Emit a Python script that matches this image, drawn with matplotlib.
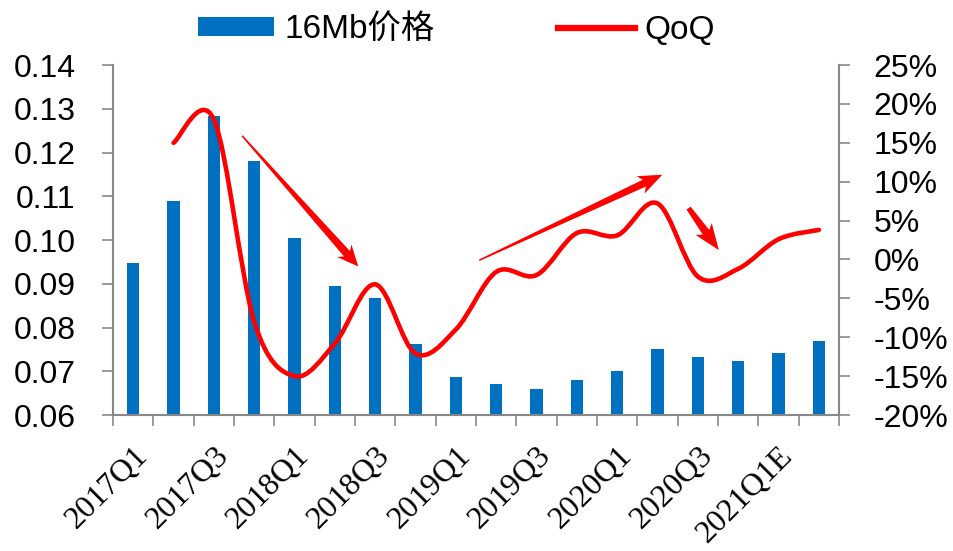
import numpy as np
import matplotlib
matplotlib.use('Agg')
import matplotlib.pyplot as plt
import matplotlib.transforms as mtransforms
from matplotlib.path import Path
from matplotlib.patches import PathPatch, Patch, Polygon
from matplotlib.lines import Line2D
from matplotlib.ticker import FuncFormatter, MultipleLocator, FixedLocator

plt.rcParams['font.family'] = ['Liberation Sans', 'Noto Sans CJK SC', 'DejaVu Sans']

# quarterly 16Mb price and its QoQ change (%)
quarters = ['2017Q1', '2017Q2', '2017Q3', '2017Q4', '2018Q1', '2018Q2', '2018Q3', '2018Q4',
            '2019Q1', '2019Q2', '2019Q3', '2019Q4', '2020Q1', '2020Q2', '2020Q3', '2020Q4',
            '2021Q1E', '2021Q2E']
price = [0.0947, 0.1089, 0.1284, 0.1181, 0.1004, 0.0896, 0.0867, 0.0762,
         0.0688, 0.0671, 0.0659, 0.0680, 0.0701, 0.0750, 0.0733, 0.0723,
         0.0741, 0.0769]
qoq = [None, 15.0, 18.0, -8.0, -15.0, -10.8, -3.2, -12.1,
       -9.0, -1.6, -2.0, 3.4, 3.1, 7.2, -2.2, -1.2,
       2.6, 3.8]

# trend arrows: (tail, tip) in (quarter index, QoQ %)
arrow_tails = [(2.7, 15.9), (8.58, -0.1), (13.77, 6.6)]
arrow_tips = [(5.58, -0.9), (13.12, 10.9), (14.52, 1.2)]

BLUE = '#0070C0'
RED = '#FF0000'
GRAY = '#888888'


def smooth_path(xs, ys):
    # Catmull-Rom style bezier, like a spreadsheet "smoothed line"
    pts = np.column_stack([xs, ys])
    n = len(pts)
    verts = [pts[0]]
    codes = [Path.MOVETO]
    for i in range(n - 1):
        p0 = pts[i - 1] if i > 0 else pts[i]
        p1 = pts[i]
        p2 = pts[i + 1]
        p3 = pts[i + 2] if i + 2 < n else pts[i + 1]
        c1 = p1 + (p2 - p0) / 6.0
        c2 = p2 - (p3 - p1) / 6.0
        verts += [c1, c2, p2]
        codes += [Path.CURVE4] * 3
    return Path(verts, codes)


def taper_arrow(a, tail, tip, w0, w1, hw, hl, notch=4):
    # tapered arrow built in pixel space, then mapped back to data coords
    t = a.transData
    p0 = t.transform(tail)
    p1 = t.transform(tip)
    d = p1 - p0
    L = np.hypot(*d)
    u = d / L
    v = np.array([-u[1], u[0]])
    base = L - hl
    local = [(0, w0 / 2), (base, w1 / 2), (base - notch, hw / 2), (L, 0),
             (base - notch, -hw / 2), (base, -w1 / 2), (0, -w0 / 2)]
    pix = [p0 + s * u + r * v for s, r in local]
    verts = t.inverted().transform(pix)
    a.add_patch(Polygon(verts, closed=True, facecolor=RED, edgecolor='none', zorder=4))


fig = plt.figure(figsize=(9.54, 5.51), dpi=100)
ax = fig.add_axes([0.1185, 0.2468, 0.761, 0.6352])
ax2 = ax.twinx()

x = np.arange(len(quarters))
ax.bar(x, price, width=0.3, color=BLUE, zorder=2)

ax.set_xlim(-0.5, len(quarters) - 0.5)
ax.set_ylim(0.06, 0.14)
ax.yaxis.set_major_locator(MultipleLocator(0.01))
ax.yaxis.set_major_formatter(FuncFormatter(lambda v, p: f'{v:.2f}'))

ax2.set_ylim(-20, 25)
ax2.yaxis.set_major_locator(MultipleLocator(5))
ax2.yaxis.set_major_formatter(FuncFormatter(lambda v, p: f'{v:.0f}%'))

# category boundary ticks, labels on every other quarter
ax.xaxis.set_major_locator(FixedLocator(np.arange(len(quarters) + 1) - 0.5))
ax.xaxis.set_major_formatter(FuncFormatter(lambda v, p: ''))
ax.set_xticks(x[::2], minor=True)
ax.set_xticklabels(quarters[::2], minor=True, rotation=45, ha='right', va='top',
                   rotation_mode='anchor', family='Liberation Serif', fontsize=23)
shift = mtransforms.ScaledTranslation(-7 / 100, 0, fig.dpi_scale_trans)
for lbl in ax.get_xticklabels(minor=True):
    lbl.set_transform(lbl.get_transform() + shift)
ax.tick_params(axis='x', which='minor', length=0, pad=19)
ax.tick_params(axis='x', which='major', length=8, width=1.2, color=GRAY, direction='out')
ax.tick_params(axis='y', length=8, width=1.2, color=GRAY, labelsize=23, pad=19)
ax2.tick_params(axis='y', length=8, width=1.2, color=GRAY, labelsize=23, pad=17)

for a in (ax, ax2):
    a.spines['top'].set_visible(False)
    for s in ('left', 'right', 'bottom'):
        a.spines[s].set_color(GRAY)
        a.spines[s].set_linewidth(1.5)
ax.spines['right'].set_visible(False)
ax2.spines['left'].set_visible(False)
ax2.spines['bottom'].set_visible(False)

# smoothed QoQ line
qx = [i for i, v in enumerate(qoq) if v is not None]
qy = [v for v in qoq if v is not None]
ax2.add_patch(PathPatch(smooth_path(qx, qy), fill=False, edgecolor=RED, lw=3.3,
                        capstyle='round', joinstyle='round', zorder=3))

taper_arrow(ax2, arrow_tails[0], arrow_tips[0], w0=1.5, w1=8, hw=19, hl=17)
taper_arrow(ax2, arrow_tails[1], arrow_tips[1], w0=1.5, w1=7.5, hw=19, hl=20)
taper_arrow(ax2, arrow_tails[2], arrow_tips[2], w0=5, w1=8, hw=20, hl=22)

handles = [Patch(facecolor=BLUE, edgecolor='none'),
           Line2D([], [], color=RED, lw=4.5)]
fig.legend(handles, ['16Mb价格', 'QoQ'], loc='center', bbox_to_anchor=(0.4785, 0.945),
           ncol=2, frameon=False, fontsize=24, handlelength=2.3, handleheight=0.5,
           columnspacing=3.7, handletextpad=0.3)

fig.savefig('out.png', dpi=100)
